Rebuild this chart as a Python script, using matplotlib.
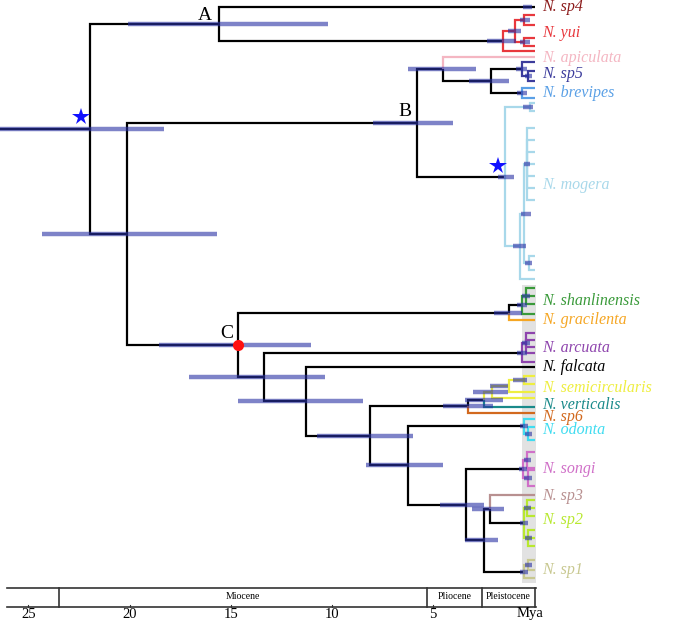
import matplotlib
matplotlib.use('Agg')
from matplotlib import pyplot as plt
from matplotlib.patches import Rectangle

# node ages (Mya)
ages = {
    'root': 21.97, 'A': 15.57, 'N20': 20.1, 'B': 5.81, 'C': 14.63,
    'yui': 1.58, 'yui1': 0.95, 'yui2': 0.5, 'yui3': 0.5,
    'n443': 4.53, 'n491': 2.17, 'sp5': 0.62, 'sp5b': 0.3, 'brev': 0.6,
    'mog': 1.48, 'mogt': 0.2, 'm2': 0.74, 'm3': 0.5, 'm5': 0.35, 'm6': 0.25,
    'n509': 1.28, 'shan': 0.6, 'sh1': 0.4,
    'n264': 13.35, 'arc': 0.6, 'a1': 0.4,
    'n306': 11.28, 'n370': 8.13, 'n467': 3.3, 'n484': 2.51,
    'semi': 2.1, 's1': 1.28, 's2': 0.5,
    'n408': 6.26, 'odo': 0.5, 'od1': 0.3,
    'n465': 3.4, 'songi': 0.55, 'so1': 0.35, 'so2': 0.3,
    'n484b': 2.51, 'n490': 2.2, 'sp2': 0.5, 'sp2a': 0.35, 'sp2b': 0.3,
    'sp1': 0.5, 'sp1a': 0.3,
}

children = {
    'root': ['A', 'N20'],
    'A': ['t_sp4', 'yui'],
    'yui': ['yui1', 't_yui5'], 'yui1': ['yui2', 'yui3'],
    'yui2': ['t_yui1', 't_yui2'], 'yui3': ['t_yui3', 't_yui4'],
    'N20': ['B', 'C'],
    'B': ['n443', 'mog'],
    'n443': ['t_api', 'n491'],
    'n491': ['sp5', 'brev'],
    'sp5': ['t_sp5a', 'sp5b'], 'sp5b': ['t_sp5b', 't_sp5c'],
    'brev': ['t_brev1', 't_brev2'],
    'mog': ['mogt', 'm2'], 'mogt': ['t_mog1', 't_mog2'],
    'm2': ['m3', 't_mog12'], 'm3': ['m5', 'm6'],
    'm5': ['t_m5a', 't_m5b', 't_m5c', 't_m5d', 't_m5e', 't_m5f', 't_m5g'],
    'm6': ['t_m6a', 't_m6b'],
    'C': ['n509', 'n264'],
    'n509': ['shan', 't_grac'],
    'shan': ['sh1', 't_shan4'], 'sh1': ['t_shan1', 't_shan2', 't_shan3'],
    'n264': ['arc', 'n306'],
    'arc': ['a1', 't_arc5'], 'a1': ['t_arc1', 't_arc2', 't_arc3', 't_arc4'],
    'n306': ['t_falc', 'n370'],
    'n370': ['n467', 'n408'],
    'n467': ['n484', 't_sp6'],
    'n484': ['semi', 't_vert'],
    'semi': ['s1', 't_semi4'], 's1': ['s2', 't_semi3'], 's2': ['t_semi1', 't_semi2'],
    'n408': ['odo', 'n465'],
    'odo': ['t_odo1', 'od1'], 'od1': ['t_odo2', 't_odo3'],
    'n465': ['songi', 'n484b'],
    'songi': ['so1', 'so2'], 'so1': ['t_so1', 't_so2'], 'so2': ['t_so3', 't_so4'],
    'n484b': ['n490', 'sp1'],
    'n490': ['t_sp3', 'sp2'],
    'sp2': ['sp2a', 'sp2b'],
    'sp2a': ['t_sp2a', 't_sp2b', 't_sp2c'], 'sp2b': ['t_sp2d', 't_sp2e', 't_sp2f'],
    'sp1': ['sp1a', 't_sp1c'], 'sp1a': ['t_sp1a', 't_sp1b'],
}

# tip rows (top to bottom)
tip_y = {
    't_sp4': 7, 't_yui1': 15, 't_yui2': 25, 't_yui3': 38, 't_yui4': 46, 't_yui5': 51,
    't_api': 57, 't_sp5a': 62, 't_sp5b': 71, 't_sp5c': 81, 't_brev1': 88, 't_brev2': 98,
    't_mog1': 103, 't_mog2': 111,
    't_m5a': 128, 't_m5b': 140, 't_m5c': 152, 't_m5d': 164, 't_m5e': 176, 't_m5f': 188, 't_m5g': 200,
    't_m6a': 256, 't_m6b': 270, 't_mog12': 279,
    't_shan1': 288, 't_shan2': 296, 't_shan3': 304, 't_shan4': 314, 't_grac': 320,
    't_arc1': 333, 't_arc2': 340, 't_arc3': 347, 't_arc4': 353, 't_arc5': 362,
    't_falc': 367, 't_semi1': 376, 't_semi2': 384, 't_semi3': 392, 't_semi4': 398,
    't_vert': 407, 't_sp6': 413,
    't_odo1': 419, 't_odo2': 427, 't_odo3': 440,
    't_so1': 452, 't_so2': 468, 't_so3': 470, 't_so4': 486,
    't_sp3': 495, 't_sp2a': 500, 't_sp2b': 508, 't_sp2c': 516,
    't_sp2d': 530, 't_sp2e': 538, 't_sp2f': 546,
    't_sp1a': 560, 't_sp1b': 570, 't_sp1c': 578,
}

# 95% HPD bars (old, young)
bars = {
    'root': (27.0, 18.3), 'A': (20.05, 10.2), 'N20': (24.3, 15.67), 'B': (7.98, 4.04),
    'n443': (6.26, 2.91), 'n491': (3.25, 1.28), 'mog': (1.82, 1.03), 'C': (18.52, 11.03),
    'n264': (17.04, 10.34), 'n306': (14.63, 8.47), 'n370': (10.74, 6.01), 'n408': (8.33, 4.53),
    'n467': (4.53, 2.07), 'n484': (3.45, 1.58), 'semi': (3.05, 1.33), 's1': (2.2, 1.33),
    's2': (1.08, 0.35), 'n465': (4.68, 2.51), 'n484b': (3.45, 1.82), 'n490': (3.1, 1.53),
    'n509': (2.02, 0.64), 'yui': (2.36, 0.89), 'yui1': (1.3, 0.65), 'yui2': (0.7, 0.2),
    'yui3': (0.7, 0.2), 'sp5': (0.9, 0.35), 'sp5b': (0.45, 0.1), 'brev': (0.85, 0.35),
    'mogt': (0.55, 0.05), 'm2': (1.08, 0.44), 'm3': (0.69, 0.15), 'm5': (0.5, 0.2),
    'm6': (0.45, 0.1), 'shan': (0.85, 0.35), 'sh1': (0.6, 0.2), 'arc': (0.85, 0.35),
    'a1': (0.6, 0.2), 'odo': (0.7, 0.3), 'od1': (0.45, 0.1), 'songi': (0.75, 0.35),
    'so1': (0.5, 0.15), 'so2': (0.5, 0.1), 'sp2': (0.7, 0.3), 'sp2a': (0.5, 0.15),
    'sp2b': (0.45, 0.1), 'sp1': (0.7, 0.3), 'sp1a': (0.45, 0.1),
    't_sp4': (0.55, 0.1),
}

# clade colours (applied to the descendants of a node), stem colours for single tips
clade_col = {
    'yui': '#e8383d', 'sp5': '#3c3c9c', 'brev': '#5aa0e6', 'mog': '#a8d8ea',
    'shan': '#3a9a3a', 'arc': '#8e44ad', 'semi': '#eeee40', 'odo': '#40dcf0',
    'songi': '#d070c8', 'sp2': '#b8e830', 'sp1': '#c8c890',
}
stem_col = {
    't_api': '#f4b6c2', 't_grac': '#f5a623', 't_vert': '#1a8a8a',
    't_sp6': '#d2691e', 't_sp3': '#b89090', 'semi': '#eeee40',
}

labels = ['N. sp4', 'N. yui', 'N. apiculata', 'N. sp5', 'N. brevipes', 'N. mogera',
          'N. shanlinensis', 'N. gracilenta', 'N. arcuata', 'N. falcata',
          'N. semicircularis', 'N. verticalis', 'N. sp6', 'N. odonta', 'N. songi',
          'N. sp3', 'N. sp2', 'N. sp1']
label_y = [7, 33, 58, 74, 93, 185, 301, 320, 348, 367, 388, 405, 417, 430, 469, 496, 520, 570]
label_col = ['#8b1a1a', '#e8383d', '#f4b6c2', '#3c3c9c', '#5aa0e6', '#a8d8ea',
             '#3a9a3a', '#f5a623', '#8e44ad', '#000000', '#eeee40', '#1a8a8a',
             '#d2691e', '#40dcf0', '#d070c8', '#b89090', '#b8e830', '#c8c890']

# geological time scale
epochs = ['Miocene', 'Pliocene', 'Pleistocene']
epoch_bounds = [23.5, 5.33, 2.58, 0.0]
ticks = [25, 20, 15, 10, 5]

''' layout '''
node_y = dict(tip_y)


def layout(n):
    if n in tip_y:
        return tip_y[n]
    ys = [layout(c) for c in children[n]]
    node_y[n] = (ys[0] + ys[-1]) / 2
    return node_y[n]


layout('root')

fig = plt.figure(figsize=(6.85, 6.21), dpi=100)
ax = fig.add_axes([0, 0, 1, 1])
ax.set_xlim(534.5 / 20.25, (534.5 - 685) / 20.25)
ax.set_ylim(621, 0)
ax.axis('off')

serif = 'Liberation Serif'
lw = 1.6
bar_col = (41 / 255, 49 / 255, 164 / 255, 0.6)

# grey band behind the tips
ax.add_patch(Rectangle((0.6, 285), -0.65, 298, color='#e2e2e2', zorder=0, lw=0))


def draw(n, inherit):
    a = ages.get(n, 0.0)
    for c in children.get(n, []):
        col = stem_col.get(c, inherit)
        ac = ages.get(c, 0.0)
        ax.plot([a, a, ac], [node_y[n], node_y[c], node_y[c]], color=col, lw=lw,
                solid_capstyle='butt', solid_joinstyle='miter', zorder=2)
        draw(c, clade_col.get(c, col))


# root stem
ax.plot([27.0, ages['root']], [node_y['root']] * 2, color='k', lw=lw, zorder=2)
draw('root', 'k')

for n, (o, y) in bars.items():
    ax.plot([o, y], [node_y[n]] * 2, color=bar_col, lw=3.2, solid_capstyle='butt', zorder=3)

# markers
ax.plot(22.4, 117, marker='*', color='#1010ff', ms=13, mew=0, zorder=4)
ax.plot(1.82, 166, marker='*', color='#1010ff', ms=13, mew=0, zorder=4)
ax.plot(ages['C'], node_y['C'], marker='o', color='#ff1010', ms=8, mew=0, zorder=4)
for t, x, y in [('A', 16.3, 15), ('B', 6.4, 111), ('C', 15.2, 334)]:
    ax.text(x, y, t, fontsize=14, family=serif, ha='center', va='center', zorder=5)

for t, y, c in zip(labels, label_y, label_col):
    ax.text(-0.4, y, t, fontsize=11.5, family=serif, style='italic', color=c,
            ha='left', va='center')

# time scale
top, bot = 588, 607
ax.plot([26.05, -0.07], [top, top], color='#333333', lw=1.2)
ax.plot([26.05, -0.07], [bot, bot], color='#333333', lw=1.2)
for b in epoch_bounds:
    ax.plot([b, b], [top, bot], color='#333333', lw=1.2)
for i, e in enumerate(epochs):
    ax.text((epoch_bounds[i] + epoch_bounds[i + 1]) / 2, (top + bot) / 2 - 1, e,
            fontsize=7, family=serif, ha='center', va='center')
for t in ticks:
    ax.plot([t, t], [bot - 2.5, bot], color='#333333', lw=0.8)
    ax.text(t, 614, str(t), fontsize=10.5, family=serif, ha='center', va='center')
ax.text(0.2, 613, 'Mya', fontsize=10.5, family=serif, ha='center', va='center')

fig.savefig('out.png', dpi=100)
